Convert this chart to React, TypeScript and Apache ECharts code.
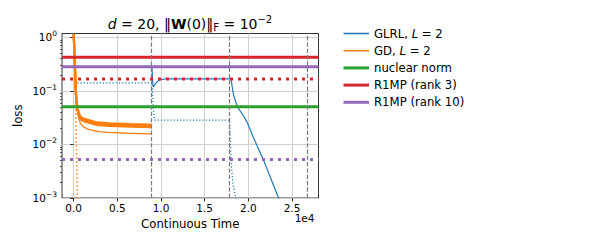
import React, { useEffect, useRef } from 'react';
import * as echarts from 'echarts';

// ---- axes ----
const X_MIN = -1335;
const X_MAX = 28035;
const Y_MIN = 0.001;
const Y_MAX = 1.18;
const xTicks = [0, 5000, 10000, 15000, 20000, 25000];
const yTicks = [0.001, 0.01, 0.1, 1];
const yMinorTicks = [
  0.002, 0.003, 0.004, 0.005, 0.006, 0.007, 0.008, 0.009,
  0.02, 0.03, 0.04, 0.05, 0.06, 0.07, 0.08, 0.09,
  0.2, 0.3, 0.4, 0.5, 0.6, 0.7, 0.8, 0.9,
];
const stageBoundaries = [8900, 17800, 26700];

// ---- series values: [time, loss] ----
const glrlTrain: [number, number][] = [
  [8950, 0.29], [9030, 0.17], [9080, 0.125], [9150, 0.12], [9300, 0.132],
  [9540, 0.148], [9920, 0.162], [10500, 0.167], [12000, 0.168], [18000, 0.168],
  [18080, 0.145], [18200, 0.105], [18350, 0.08], [18500, 0.067], [18770, 0.05],
  [19300, 0.037], [19840, 0.0264], [20500, 0.0146], [21000, 0.0095],
  [21740, 0.0051], [22500, 0.0025], [23460, 0.001], [23800, 0.00075],
];
const glrlTest: [number, number][] = [
  [420, 0.1417], [8950, 0.1417], [9030, 0.1], [9120, 0.05], [9230, 0.0285],
  [17850, 0.0285], [17950, 0.01], [18050, 0.004], [18250, 0.0018],
  [18550, 0.001], [18650, 0.0009],
];
const gdTrain: [number, number][] = [
  [0, 1.15], [100, 0.5], [180, 0.2], [260, 0.09], [350, 0.056], [450, 0.04],
  [600, 0.03], [770, 0.0247], [1100, 0.0215], [1500, 0.0196], [2290, 0.0181],
  [3050, 0.0172], [4000, 0.0168], [6100, 0.0162], [8900, 0.0158],
];
const gdBandUpper: [number, number][] = [
  [0, 1.15], [100, 0.5], [180, 0.2], [260, 0.095], [350, 0.0614], [450, 0.0476],
  [600, 0.0381], [800, 0.0328], [1100, 0.0307], [1530, 0.0291], [2500, 0.0262],
  [3050, 0.0257], [4200, 0.0249], [6500, 0.024], [8900, 0.0235],
];
const gdBandMiddle: [number, number][] = [
  [0, 1.15], [100, 0.5], [180, 0.2], [260, 0.09], [350, 0.058], [450, 0.045],
  [600, 0.036], [800, 0.031], [1100, 0.029], [1530, 0.0275], [2500, 0.0248],
  [3050, 0.0243], [4200, 0.0235], [6500, 0.0227], [8900, 0.0222],
];
const gdBandLower: [number, number][] = [
  [0, 1.15], [100, 0.5], [180, 0.2], [260, 0.085], [350, 0.0548], [450, 0.0425],
  [600, 0.034], [800, 0.0293], [1100, 0.0274], [1530, 0.026], [2500, 0.0234],
  [3050, 0.023], [4200, 0.0222], [6500, 0.0215], [8900, 0.021],
];
const gdTest: [number, number][] = [
  [0, 1.0], [100, 0.45], [170, 0.15], [230, 0.05], [290, 0.015],
  [350, 0.005], [410, 0.001], [430, 0.0007],
];
const nuclearNormLoss = 0.0504;
const r1mpRank3Train = 0.423;
const r1mpRank3Test = 0.166;
const r1mpRank10Train = 0.282;
const r1mpRank10Test = 0.00525;

const legendNames = ['GLRL, L = 2', 'GD, L = 2', 'nuclear norm', 'R1MP (rank 3)', 'R1MP (rank 10)'];
const legendWidths = [1.5, 1.5, 3, 3, 3];

const C_BLUE = '#1f77b4';
const C_ORANGE = '#ff7f0e';
const C_GREEN = '#2ca02c';
const C_RED = '#d62728';
const C_PURPLE = '#9467bd';
const FONT = 'DejaVu Sans';

const hline = (v: number): [number, number][] => [[X_MIN, v], [X_MAX, v]];

const supExp = (v: number) => {
  const e = Math.round(Math.log10(v));
  return e < 0 ? '\u2212' + String(-e) : String(e);
};

export default function App() {
  const ref = useRef<HTMLDivElement>(null);
  useEffect(() => {
    if (!ref.current) return;
    const chart = echarts.init(ref.current, undefined, { renderer: 'svg' });
    const lineBase = { type: 'line', symbol: 'none', showSymbol: false, clip: true, silent: true } as const;
    const band = (name: string, data: [number, number][]) => ({
      ...lineBase, name, data, lineStyle: { color: C_ORANGE, width: 2.2 }, itemStyle: { color: C_ORANGE },
    });
    chart.setOption({
      animation: false,
      backgroundColor: '#ffffff',
      textStyle: { fontFamily: FONT },
      grid: {
        left: 62, top: 33.5, width: 256.5, height: 164.5,
        show: true, borderColor: '#000', borderWidth: 0.8, backgroundColor: 'transparent',
      },
      graphic: [
        {
          type: 'text', x: 190, y: 23.5, z: 10,
          style: {
            text: '{i|d}{r| = 20, \u2016}{b|W}{r|(0)\u2016}{sub|F}{r| = 10}{sup|\u22122}',
            align: 'center', verticalAlign: 'middle', fill: '#000',
            rich: {
              i: { fontFamily: FONT, fontSize: 14, fontStyle: 'italic', lineHeight: 18, fill: '#000' },
              r: { fontFamily: FONT, fontSize: 14, lineHeight: 18, fill: '#000' },
              b: { fontFamily: FONT, fontSize: 14, fontWeight: 'bold', lineHeight: 18, fill: '#000' },
              sub: { fontFamily: FONT, fontSize: 10, lineHeight: 13, verticalAlign: 'bottom', fill: '#000' },
              sup: { fontFamily: FONT, fontSize: 10, lineHeight: 9, verticalAlign: 'top', fill: '#000' },
            },
          },
        },
        {
          type: 'text', x: 314.5, y: 217.5, z: 10,
          style: { text: '1e4', align: 'right', verticalAlign: 'middle', fontFamily: FONT, fontSize: 10.5, fill: '#000' },
        },
      ],
      legend: {
        data: legendNames.map((name, i) => ({ name, lineStyle: { width: legendWidths[i] } })),
        orient: 'vertical',
        left: 337, top: 21.5,
        itemWidth: 25.5, itemHeight: 14, itemGap: 3.2,
        itemStyle: { opacity: 0 },
        textStyle: {
          fontFamily: FONT, fontSize: 11.7, color: '#000', lineHeight: 14,
          rich: { i: { fontFamily: FONT, fontSize: 11.7, fontStyle: 'italic', color: '#000', lineHeight: 14 } },
        },
        formatter: (name: string) => name.replace('L = 2', '{i|L} = 2'),
        selectedMode: false,
      },
      xAxis: {
        type: 'value', min: X_MIN, max: X_MAX,
        name: 'Continuous Time', nameLocation: 'middle', nameGap: 17,
        nameTextStyle: { fontFamily: FONT, fontSize: 11.7, color: '#000' },
        axisLine: { show: false },
        axisTick: { show: true, customValues: xTicks, length: 3.5, lineStyle: { color: '#000', width: 0.8 } },
        axisLabel: {
          customValues: xTicks, margin: 4.5, fontFamily: FONT, fontSize: 10.5, color: '#000',
          formatter: (v: number) => (v / 1e4).toFixed(1),
        },
        splitLine: { show: true, lineStyle: { color: '#d0d0d0', width: 1 } },
      },
      yAxis: [
        {
          type: 'log', logBase: 10, min: Y_MIN, max: Y_MAX,
          name: 'loss', nameLocation: 'middle', nameGap: 38,
          nameTextStyle: { fontFamily: FONT, fontSize: 11.7, color: '#000' },
          axisLine: { show: false },
          axisTick: { show: true, customValues: yTicks, length: 3.5, lineStyle: { color: '#000', width: 0.8 } },
          axisLabel: {
            customValues: yTicks, margin: 5, color: '#000',
            formatter: (v: number) => '{m|10}{s|' + supExp(v) + '}',
            rich: {
              m: { fontFamily: FONT, fontSize: 10.5, lineHeight: 15, color: '#000' },
              s: { fontFamily: FONT, fontSize: 7.5, lineHeight: 9, verticalAlign: 'top', color: '#000' },
            },
          },
          splitLine: { show: true, lineStyle: { color: '#d0d0d0', width: 1 } },
        },
        {
          type: 'log', logBase: 10, min: Y_MIN, max: Y_MAX, position: 'left',
          axisLine: { show: false },
          axisTick: { show: true, customValues: yMinorTicks, length: 2, lineStyle: { color: '#000', width: 0.6 } },
          axisLabel: { show: false },
          splitLine: { show: false },
        },
      ],
      series: [
        {
          ...lineBase, name: '__stages', data: [],
          markLine: {
            silent: true, symbol: 'none', label: { show: false },
            lineStyle: { color: '#7a7a7a', type: [4.4, 1.9], width: 1.2 },
            data: stageBoundaries.map((x) => ({ xAxis: x })),
          },
        },
        { ...lineBase, name: 'GLRL, L = 2', data: glrlTrain, lineStyle: { color: C_BLUE, width: 1.2 }, itemStyle: { color: C_BLUE } },
        { ...lineBase, name: '__glrlTest', data: glrlTest, lineStyle: { color: C_BLUE, width: 1.2, type: [1.2, 2] }, itemStyle: { color: C_BLUE } },
        band('__gdBandUpper', gdBandUpper),
        band('__gdBandMiddle', gdBandMiddle),
        band('__gdBandLower', gdBandLower),
        { ...lineBase, name: 'GD, L = 2', data: gdTrain, lineStyle: { color: C_ORANGE, width: 1.3 }, itemStyle: { color: C_ORANGE } },
        { ...lineBase, name: '__gdTest', data: gdTest, lineStyle: { color: C_ORANGE, width: 1.5, type: [1.5, 2.5] }, itemStyle: { color: C_ORANGE } },
        { ...lineBase, name: 'nuclear norm', data: hline(nuclearNormLoss), lineStyle: { color: C_GREEN, width: 3 }, itemStyle: { color: C_GREEN } },
        { ...lineBase, name: 'R1MP (rank 3)', data: hline(r1mpRank3Train), lineStyle: { color: C_RED, width: 3 }, itemStyle: { color: C_RED } },
        { ...lineBase, name: '__r1mp3Test', data: hline(r1mpRank3Test), lineStyle: { color: C_RED, width: 3, type: [3, 5] }, itemStyle: { color: C_RED } },
        { ...lineBase, name: 'R1MP (rank 10)', data: hline(r1mpRank10Train), lineStyle: { color: C_PURPLE, width: 3 }, itemStyle: { color: C_PURPLE } },
        { ...lineBase, name: '__r1mp10Test', data: hline(r1mpRank10Test), lineStyle: { color: C_PURPLE, width: 3, type: [3, 5] }, itemStyle: { color: C_PURPLE } },
      ],
    });
    return () => chart.dispose();
  }, []);
  return <div ref={ref} style={{ position: 'fixed', left: 0, top: 0, width: 609, height: 244, background: '#fff' }} />;
}
